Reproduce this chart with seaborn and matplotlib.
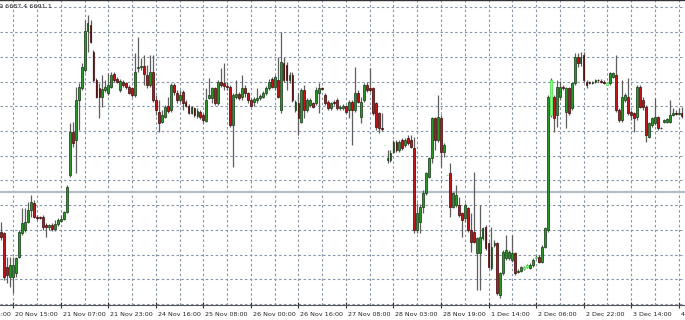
import numpy as np
import pandas as pd
import matplotlib
matplotlib.use("Agg")
import matplotlib.pyplot as plt
import seaborn as sns

# ---------------- data (H1 bars) ----------------
open_ = [6656.5, 6656.0, 6646.0, 6643.0, 6643.0, 6644.0, 6649.0, 6656.0, 6657.0, 6659.5,
         6663.0, 6665.0, 6661.0, 6660.8, 6661.0, 6658.5, 6657.8, 6658.4, 6657.2, 6658.8,
         6659.6, 6660.4, 6662.4, 6673.5, 6686.5, 6684.0, 6696.0, 6699.5, 6705.0, 6716.8,
         6718.5, 6710.5, 6702.0, 6699.5, 6697.0, 6699.0, 6698.0, 6700.0, 6703.8, 6702.2,
         6699.0, 6701.4, 6701.0, 6699.8, 6699.5, 6697.5, 6705.5, 6706.0, 6706.2, 6703.5,
         6700.5, 6704.5, 6696.0, 6692.5, 6689.5, 6691.0, 6694.2, 6693.0, 6700.5, 6698.0,
         6696.0, 6698.5, 6695.5, 6694.2, 6692.2, 6693.5, 6691.2, 6692.5, 6691.5, 6689.8,
         6696.5, 6696.5, 6699.5, 6695.0, 6701.5, 6701.0, 6700.2, 6699.8, 6688.5, 6697.0,
         6697.8, 6696.8, 6699.5, 6698.0, 6696.0, 6695.5, 6696.0, 6696.5, 6697.0, 6698.0,
         6699.5, 6702.2, 6699.8, 6702.0, 6693.0, 6707.0, 6706.5, 6702.0, 6703.5, 6693.0,
         6695.0, 6689.5, 6699.0, 6693.0, 6694.5, 6695.0, 6695.0, 6698.0, 6699.5, 6697.5,
         6695.5, 6693.5, 6695.5, 6696.0, 6693.5, 6693.5, 6694.2, 6693.0, 6695.5, 6693.0,
         6698.0, 6691.0, 6696.0, 6700.5, 6699.5, 6699.5, 6695.0, 6692.0, 6687.5, 6682.5,
         6678.0, 6678.0, 6680.5, 6683.5, 6681.0, 6684.0, 6682.5, 6684.5, 6684.0, 6681.5,
         6657.0, 6659.5, 6663.8, 6668.0, 6673.0, 6678.5, 6690.5, 6684.0, 6690.5, 6680.5,
         6673.5, 6674.0, 6664.0, 6664.5, 6664.5, 6662.0, 6660.5, 6663.5, 6657.0, 6656.5,
         6650.0, 6650.0, 6654.5, 6658.0, 6653.0, 6645.5, 6652.5, 6653.0, 6637.5, 6644.0,
         6648.5, 6648.5, 6648.0, 6650.0, 6644.5, 6644.8, 6645.2, 6646.0, 6645.5, 6646.5,
         6648.5, 6649.0, 6647.5, 6652.0, 6657.0, 6691.5, 6697.0, 6691.5, 6697.0, 6699.8,
         6692.5, 6699.5, 6693.5, 6701.0, 6709.0, 6707.0, 6709.5, 6701.5, 6701.2, 6701.1,
         6701.4, 6702.0, 6701.8, 6701.5, 6700.5, 6701.0, 6703.0, 6703.5, 6693.0, 6690.0,
         6696.0, 6697.0, 6692.5, 6692.0, 6691.0, 6700.0, 6696.0, 6694.0, 6685.0, 6688.5,
         6689.0, 6690.8, 6687.5, 6689.5, 6689.4, 6689.5, 6691.5, 6692.0, 6691.9, 6692.0]
high = [6659.5, 6656.5, 6649.0, 6649.0, 6649.0, 6649.0, 6657.0, 6663.5, 6663.5, 6665.5,
        6667.5, 6666.0, 6661.5, 6661.2, 6661.5, 6659.0, 6658.8, 6659.0, 6660.0, 6660.5,
        6661.5, 6662.8, 6670.5, 6689.0, 6689.5, 6699.8, 6701.0, 6707.0, 6720.0, 6721.5,
        6720.0, 6711.0, 6702.5, 6701.0, 6703.5, 6702.0, 6704.0, 6704.5, 6704.5, 6702.8,
        6702.2, 6702.0, 6701.5, 6700.5, 6700.0, 6710.0, 6715.0, 6708.5, 6709.5, 6706.5,
        6709.5, 6709.5, 6697.5, 6696.0, 6693.0, 6694.5, 6697.0, 6701.0, 6701.0, 6699.0,
        6699.0, 6699.0, 6696.0, 6694.8, 6694.2, 6694.0, 6693.5, 6693.0, 6692.0, 6699.5,
        6702.5, 6700.0, 6700.0, 6702.0, 6705.5, 6707.0, 6701.5, 6700.5, 6698.0, 6702.0,
        6698.5, 6703.5, 6700.5, 6698.5, 6696.5, 6697.0, 6699.5, 6697.8, 6698.8, 6700.2,
        6702.2, 6703.0, 6703.5, 6709.0, 6716.5, 6709.0, 6707.5, 6704.5, 6704.5, 6696.0,
        6698.0, 6699.5, 6700.5, 6696.5, 6696.5, 6695.5, 6700.0, 6701.0, 6700.0, 6698.0,
        6696.0, 6695.5, 6696.0, 6696.5, 6694.5, 6694.8, 6694.5, 6696.0, 6696.0, 6706.0,
        6699.0, 6697.0, 6701.0, 6701.5, 6705.5, 6700.0, 6695.5, 6692.5, 6692.0, 6682.6,
        6681.0, 6681.0, 6684.0, 6684.0, 6684.0, 6684.5, 6684.5, 6685.5, 6685.5, 6685.0,
        6665.0, 6664.8, 6669.0, 6674.5, 6679.0, 6691.0, 6691.0, 6697.5, 6691.5, 6683.0,
        6673.6, 6677.0, 6668.5, 6670.5, 6667.0, 6662.5, 6665.0, 6664.0, 6662.0, 6674.5,
        6655.0, 6664.5, 6658.0, 6658.5, 6653.5, 6658.0, 6654.0, 6653.5, 6644.5, 6651.0,
        6655.5, 6651.0, 6655.5, 6650.5, 6645.2, 6646.2, 6646.2, 6646.8, 6647.0, 6648.5,
        6649.5, 6649.5, 6652.5, 6658.0, 6697.5, 6702.5, 6697.5, 6702.0, 6701.8, 6700.5,
        6699.8, 6700.0, 6701.5, 6710.0, 6710.2, 6710.5, 6710.5, 6702.0, 6701.6, 6701.6,
        6702.4, 6702.3, 6702.2, 6702.0, 6701.2, 6704.5, 6704.5, 6709.5, 6693.5, 6702.0,
        6698.0, 6702.5, 6693.0, 6692.5, 6700.5, 6700.5, 6697.0, 6694.5, 6689.5, 6691.0,
        6696.5, 6691.2, 6687.8, 6690.3, 6690.5, 6696.0, 6693.5, 6693.0, 6693.5, 6694.0]
low = [6654.0, 6642.0, 6641.0, 6640.0, 6638.0, 6643.0, 6648.5, 6655.5, 6656.5, 6659.0,
       6661.0, 6660.5, 6660.0, 6660.2, 6657.0, 6655.0, 6657.0, 6656.8, 6656.8, 6658.2,
       6659.4, 6660.0, 6662.0, 6673.0, 6682.0, 6674.0, 6687.0, 6699.0, 6704.5, 6710.5,
       6713.0, 6701.5, 6696.5, 6690.5, 6694.0, 6698.5, 6697.5, 6699.5, 6701.5, 6701.0,
       6698.5, 6699.8, 6699.2, 6697.8, 6697.0, 6697.0, 6704.5, 6705.0, 6700.5, 6699.5,
       6700.0, 6695.5, 6691.5, 6686.5, 6689.0, 6690.5, 6692.0, 6692.5, 6697.5, 6695.0,
       6695.5, 6693.0, 6693.8, 6691.8, 6691.8, 6691.0, 6690.5, 6690.2, 6689.0, 6689.5,
       6696.2, 6695.0, 6694.5, 6694.5, 6700.0, 6699.0, 6699.0, 6688.0, 6676.0, 6696.2,
       6696.0, 6696.0, 6697.0, 6695.0, 6693.8, 6694.2, 6695.2, 6696.0, 6696.5, 6697.5,
       6699.0, 6699.5, 6699.0, 6696.5, 6692.0, 6701.5, 6699.0, 6701.0, 6695.5, 6692.5,
       6685.5, 6689.0, 6690.5, 6692.5, 6694.0, 6693.5, 6694.5, 6692.0, 6699.0, 6694.5,
       6693.0, 6693.0, 6694.5, 6693.0, 6693.0, 6693.0, 6692.0, 6690.5, 6682.5, 6692.5,
       6695.0, 6689.0, 6695.5, 6698.5, 6698.5, 6691.5, 6687.0, 6686.0, 6686.8, 6682.4,
       6677.0, 6677.5, 6680.0, 6680.5, 6680.5, 6681.0, 6682.0, 6682.5, 6681.5, 6656.0,
       6656.0, 6656.0, 6662.0, 6667.5, 6672.5, 6677.0, 6681.0, 6683.5, 6676.0, 6679.0,
       6673.4, 6661.0, 6663.5, 6664.0, 6661.0, 6655.0, 6659.5, 6656.5, 6650.5, 6653.0,
       6639.0, 6639.0, 6654.0, 6651.0, 6645.5, 6645.0, 6652.0, 6637.5, 6636.5, 6643.5,
       6648.0, 6648.0, 6647.5, 6643.5, 6644.0, 6644.5, 6645.0, 6645.5, 6645.2, 6646.0,
       6648.2, 6647.0, 6647.0, 6651.5, 6656.5, 6691.0, 6686.5, 6688.0, 6696.0, 6699.0,
       6687.5, 6691.5, 6693.0, 6700.5, 6706.0, 6706.2, 6701.5, 6699.5, 6700.7, 6700.8,
       6701.0, 6701.5, 6701.2, 6700.7, 6700.4, 6700.5, 6702.5, 6692.5, 6689.5, 6689.5,
       6695.5, 6691.5, 6690.0, 6686.5, 6690.0, 6693.5, 6693.0, 6683.5, 6684.5, 6688.0,
       6688.5, 6687.0, 6687.2, 6689.2, 6689.0, 6689.2, 6691.2, 6691.5, 6691.6, 6690.5]
close = [6655.0, 6643.0, 6643.5, 6646.5, 6646.5, 6648.5, 6656.5, 6659.0, 6659.5, 6663.0,
         6665.5, 6661.0, 6660.5, 6660.6, 6658.0, 6657.8, 6658.4, 6657.2, 6658.8, 6660.0,
         6660.4, 6662.4, 6669.8, 6686.5, 6683.2, 6696.0, 6699.8, 6706.0, 6716.8, 6719.0,
         6713.5, 6702.0, 6697.0, 6697.0, 6699.2, 6699.8, 6700.5, 6703.5, 6702.0, 6701.5,
         6701.8, 6700.5, 6699.8, 6698.2, 6697.5, 6704.5, 6706.0, 6706.2, 6703.8, 6700.5,
         6704.5, 6696.0, 6693.0, 6689.0, 6691.5, 6694.0, 6692.8, 6700.5, 6698.5, 6696.0,
         6697.5, 6695.0, 6694.2, 6692.2, 6693.8, 6691.5, 6692.8, 6690.8, 6690.0, 6696.0,
         6697.5, 6699.5, 6695.0, 6701.5, 6700.5, 6700.2, 6699.8, 6688.5, 6697.5, 6697.8,
         6696.5, 6699.5, 6698.0, 6696.0, 6694.2, 6696.2, 6696.7, 6697.2, 6698.2, 6699.5,
         6701.5, 6700.0, 6702.8, 6697.0, 6707.5, 6702.0, 6702.0, 6703.5, 6696.0, 6695.5,
         6690.5, 6699.0, 6693.0, 6696.0, 6696.0, 6694.0, 6699.0, 6699.5, 6699.4, 6695.0,
         6693.5, 6695.0, 6695.0, 6693.5, 6694.0, 6694.2, 6692.5, 6695.5, 6693.0, 6698.0,
         6695.5, 6695.5, 6700.5, 6699.0, 6699.0, 6692.0, 6688.0, 6687.5, 6687.2, 6682.5,
         6678.5, 6680.2, 6683.5, 6681.0, 6683.5, 6681.5, 6684.0, 6683.0, 6682.0, 6657.0,
         6662.0, 6663.8, 6668.0, 6674.0, 6678.5, 6690.5, 6684.0, 6690.8, 6680.5, 6682.5,
         6673.5, 6664.0, 6668.0, 6667.5, 6661.5, 6660.0, 6664.5, 6657.0, 6653.5, 6653.5,
         6654.5, 6655.0, 6657.5, 6651.5, 6646.0, 6652.0, 6653.2, 6638.0, 6644.0, 6650.5,
         6651.0, 6650.5, 6650.0, 6644.0, 6644.8, 6645.8, 6646.0, 6646.5, 6646.5, 6648.0,
         6649.0, 6647.5, 6652.0, 6657.5, 6697.0, 6702.0, 6690.5, 6700.0, 6700.0, 6699.5,
         6699.5, 6692.0, 6701.0, 6709.0, 6707.0, 6708.8, 6702.0, 6700.5, 6701.1, 6701.3,
         6702.0, 6701.9, 6701.5, 6701.0, 6701.0, 6704.0, 6704.0, 6693.0, 6690.0, 6697.0,
         6697.5, 6692.0, 6691.5, 6690.5, 6700.0, 6694.0, 6694.0, 6685.5, 6689.0, 6690.5,
         6690.8, 6687.5, 6687.6, 6690.0, 6690.2, 6691.5, 6692.2, 6691.9, 6692.0, 6691.1]
highlight_bars = [129, 150, 176, 177, 180, 185, 204]   # bars drawn in lime
tick_labels = ["19 Nov 23:00", "20 Nov 15:00", "21 Nov 07:00", "21 Nov 23:00",
               "24 Nov 16:00", "25 Nov 08:00", "26 Nov 00:00", "26 Nov 16:00",
               "27 Nov 08:00", "28 Nov 03:00", "28 Nov 19:00", "1 Dec 14:00",
               "2 Dec 06:00", "2 Dec 22:00", "3 Dec 14:00", "4 Dec 06:00"]
hline_price = 6668.5
info_text = "6690.6 6691.9 6687.4 6691.1"

# ---------------- build ----------------
df = pd.DataFrame({"open": open_, "high": high, "low": low, "close": close})
df["bar"] = np.arange(len(df))
df["kind"] = np.where(df["close"] >= df["open"], "up", "down")
df.loc[df["bar"].isin(highlight_bars), "kind"] = "lime"

sns.set_theme(style="white")
plt.rcParams["font.family"] = ["DejaVu Sans"]

fig = plt.figure(figsize=(6.85, 3.2), dpi=100)
ax = fig.add_axes([0, 15 / 320, 1, 305 / 320])
ax.set_facecolor("white")

# grid
grid_kw = dict(color="#8794a8", lw=0.8, ls=(0, (2.2, 2.2)), zorder=0)
for gx in np.arange(-4, 232, 8):
    ax.axvline(gx, **grid_kw)
for gy in np.arange(6723.8, 6634.0, -7.42):
    ax.axhline(gy, **grid_kw)
ax.axhline(hline_price, color="#b4bcc6", lw=1.6, zorder=1)

# wicks
ax.vlines(df["bar"], df["low"], df["high"], colors="#5f5f5f", lw=0.9, zorder=2)

# bodies
styles = {"up": ("#2a962a", "#123812"), "down": ("#c0141a", "#3a0808"),
          "lime": ("#a6f0a6", "#3ee83e")}
for kind, (fc, ec) in styles.items():
    d = df[df["kind"] == kind]
    h = (d["close"] - d["open"]).abs().clip(lower=0.15)
    ax.bar(d["bar"], h, bottom=d[["open", "close"]].min(axis=1), width=0.62,
           color=fc, edgecolor=ec, lw=0.5, zorder=3)

# axes frame
for side in ["left", "right"]:
    ax.spines[side].set_visible(False)
ax.spines["top"].set_color("#333333")
ax.spines["top"].set_linewidth(1.0)
ax.spines["bottom"].set_color("#555555")
ax.spines["bottom"].set_linewidth(0.8)
ax.set_yticks([])

tick_bars = np.arange(-12, 229, 16)
ax.set_xticks(tick_bars)
ax.set_xticklabels([])
ax.tick_params(axis="x", direction="inout", length=4, width=0.8, color="#333333", bottom=True)
for b, lbl in zip(tick_bars, tick_labels):
    ax.annotate(lbl, xy=(b, 0), xycoords=("data", "axes fraction"),
                xytext=(2, -9), textcoords="offset pixels", ha="left", va="center",
                fontsize=4.6, color="#222222", annotation_clip=False)

# limits last (set_xticks would otherwise widen the view)
ax.set_xlim(-0.478, 230.16)
ax.set_ylim(6634.5, 6726.0)

fig.text(52 / 685, 1 - 6 / 320, info_text, ha="right", va="center",
         fontsize=4.6, color="#222222")

fig.savefig("out.png", dpi=100)
